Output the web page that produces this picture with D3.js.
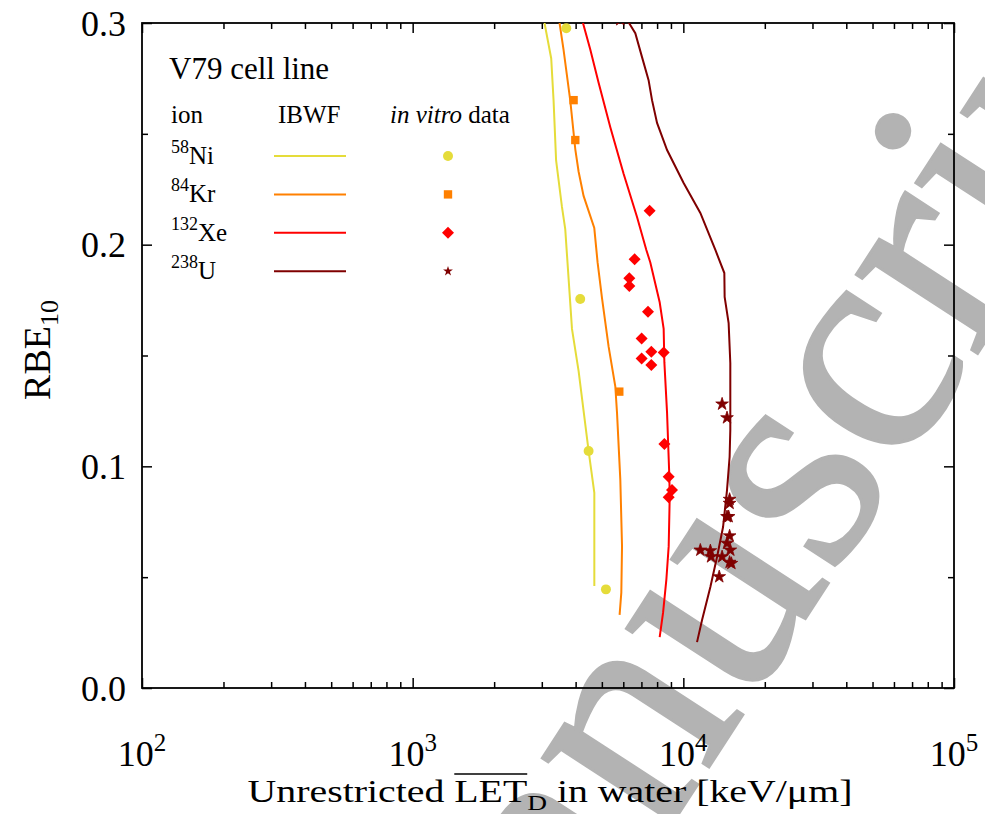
<!DOCTYPE html>
<html>
<head>
<meta charset="utf-8">
<script src="https://cdn.jsdelivr.net/npm/d3@7"></script>
<style>
  body { margin: 0; background: #fff; }
  svg { display: block; font-family: "Liberation Serif", "DejaVu Serif", serif; }
</style>
</head>
<body>
<script>
// RBE10 vs LET, V79 cells -- IBWF model curves and in vitro points
var width = 985;
var height = 814;

var letMajor = [1e2, 1e3, 1e4, 1e5];
var letLabels = ['2', '3', '4', '5'];
var rbeMajor = [0, 0.1, 0.2, 0.3];
var rbeLabels = ['0.0', '0.1', '0.2', '0.3'];
var rbeMinor = [0.05, 0.15, 0.25];

var ionMass = ['58', '84', '132', '238'];
var ionName = ['Ni', 'Kr', 'Xe', 'U'];
var ionColor = ['#e5dc3a', '#ff8000', '#ff0000', '#7f0000'];
var ionSymbol = ['circle', 'square', 'diamond', 'star'];

// IBWF curves [LET keV/um, RBE10]
var ibwfNi = [[3070, 0.300], [3250, 0.284], [3316, 0.265], [3388, 0.238], [3561, 0.217],
  [3662, 0.207], [3878, 0.162], [4103, 0.143], [4467, 0.107], [4690, 0.088], [4690, 0.046]];
var ibwfKr = [[3489, 0.300], [3609, 0.288], [3822, 0.265], [3989, 0.243], [4102, 0.233],
  [4280, 0.222], [4688, 0.2075], [4822, 0.192], [5005, 0.176], [5296, 0.154], [5607, 0.136],
  [5689, 0.124], [5850, 0.094], [5936, 0.064], [5900, 0.043], [5815, 0.033]];
var ibwfXe = [[4258, 0.300], [4531, 0.288], [4864, 0.273], [5373, 0.253], [6016, 0.232],
  [6744, 0.2125], [7300, 0.1976], [7551, 0.192], [8177, 0.174], [8459, 0.162], [8510, 0.147],
  [8708, 0.124], [8880, 0.095], [8905, 0.086], [8829, 0.064], [8657, 0.049], [8417, 0.034],
  [8177, 0.023]];
var ibwfU = [[6000, 0.302], [6300, 0.300], [6646, 0.2954], [7037, 0.2846], [7441, 0.2742],
  [7662, 0.2652], [7996, 0.2549], [8708, 0.2427], [10025, 0.2278], [11557, 0.2143],
  [13133, 0.1976], [14174, 0.1872], [14210, 0.1764], [14701, 0.1646], [14913, 0.1466],
  [14913, 0.1164], [14824, 0.1042], [14500, 0.0893], [14020, 0.0726], [13320, 0.0591],
  [12585, 0.0456], [11726, 0.0307], [11235, 0.0207]];

// in vitro data
var vitroNi = [[3694, 0.2976], [4160, 0.1755], [4467, 0.1069], [5177, 0.0445]];
var vitroKr = [[3932, 0.2652], [3989, 0.2472], [5800, 0.1337]];
var vitroXe = [[7507, 0.2153], [6607, 0.1934], [6317, 0.1848], [6317, 0.1813], [7404, 0.1697],
  [7014, 0.1577], [7615, 0.1517], [8459, 0.1514], [7014, 0.1487], [7615, 0.1457],
  [8510, 0.1101], [8829, 0.0953], [9080, 0.0893], [8829, 0.0860]];
var vitroU = [[5850, 0.3015], [13907, 0.1281], [14500, 0.1219], [14824, 0.0851], [14824, 0.0833],
  [14701, 0.0773], [14500, 0.0773], [14824, 0.0686], [14500, 0.0653], [14913, 0.0622],
  [11557, 0.0622], [12585, 0.0619], [12662, 0.0592], [13907, 0.0592], [14824, 0.0567],
  [15050, 0.0562], [13573, 0.0502]];

var curves = [ibwfNi, ibwfKr, ibwfXe, ibwfU];
var points = [vitroNi, vitroKr, vitroXe, vitroU];

var pLeft = 142, pRight = 954, pTop = 23, pBottom = 688;

var x = d3.scaleLog().domain([1e2, 1e5]).range([pLeft, pRight]);
var y = d3.scaleLinear().domain([0, 0.3]).range([pBottom, pTop]);

var letMinor = [];
[1e2, 1e3, 1e4].forEach(function (dec) {
  for (var k = 2; k <= 9; k++) { letMinor.push(dec * k); }
});

var svg = d3.select('body').append('svg')
  .attr('width', width)
  .attr('height', height);

svg.append('defs').append('clipPath').attr('id', 'plot')
  .append('rect')
  .attr('x', pLeft).attr('y', pTop)
  .attr('width', pRight - pLeft).attr('height', pBottom - pTop);

// watermark
svg.append('text')
  .attr('transform', 'translate(431,1195) rotate(-57)')
  .attr('font-size', 315)
  .attr('fill', '#b3b3b3')
  .attr('stroke', '#b3b3b3')
  .attr('stroke-width', 3)
  .text('Manuscript');

// axes, ticks pointing inward
function axis (gen, scale, vals, size, tx, ty) {
  svg.append('g')
    .attr('transform', 'translate(' + tx + ',' + ty + ')')
    .call(gen(scale).tickValues(vals).tickSize(-size).tickSizeOuter(0).tickFormat(''))
    .call(function (g) {
      g.select('.domain').remove();
      g.selectAll('line').attr('stroke', '#000').attr('stroke-width', 1.5);
    });
}
axis(d3.axisBottom, x, letMajor, 10, 0, pBottom);
axis(d3.axisBottom, x, letMinor, 6, 0, pBottom);
axis(d3.axisTop, x, letMajor, 10, 0, pTop);
axis(d3.axisTop, x, letMinor, 6, 0, pTop);
axis(d3.axisLeft, y, rbeMajor, 10, pLeft, 0);
axis(d3.axisLeft, y, rbeMinor, 6, pLeft, 0);
axis(d3.axisRight, y, rbeMajor, 10, pRight, 0);
axis(d3.axisRight, y, rbeMinor, 6, pRight, 0);

svg.append('rect')
  .attr('x', pLeft).attr('y', pTop)
  .attr('width', pRight - pLeft).attr('height', pBottom - pTop)
  .attr('fill', 'none')
  .attr('stroke', '#000')
  .attr('stroke-width', 1.8);

// tick labels
svg.append('g').selectAll('text')
  .data(rbeMajor)
  .enter().append('text')
  .attr('x', 126)
  .attr('y', function (d) { return y(d); })
  .attr('dy', '0.35em')
  .attr('text-anchor', 'end')
  .attr('font-size', 36)
  .text(function (d, i) { return rbeLabels[i]; });

var xl = svg.append('g').selectAll('text')
  .data(letMajor)
  .enter().append('text')
  .attr('x', function (d) { return x(d); })
  .attr('y', 766)
  .attr('text-anchor', 'middle')
  .attr('font-size', 36);
xl.append('tspan').text('10');
xl.append('tspan').attr('dy', -15).attr('font-size', 25)
  .text(function (d, i) { return letLabels[i]; });

// axis titles
var xt = svg.append('text')
  .attr('text-anchor', 'middle')
  .attr('font-size', 32);
xt.append('tspan').text('Unrestricted ');
xt.append('tspan').text('LET');
xt.append('tspan').attr('dy', 8).attr('font-size', 22).text('D');
xt.append('tspan').attr('dy', -8).text(' in water [keV/\u03bcm]');
var xn = xt.node();
var xs = 605 / xn.getComputedTextLength();
xt.attr('transform', 'translate(550,802) scale(' + xs + ',1)');
var s0 = xn.getStartPositionOfChar(13);
var lw = xn.getSubStringLength(13, 3);
svg.append('line')
  .attr('x1', 550 + s0.x * xs).attr('x2', 550 + (s0.x + lw) * xs)
  .attr('y1', 774).attr('y2', 774)
  .attr('stroke', '#000').attr('stroke-width', 1.5);

var yt = svg.append('text')
  .attr('transform', 'translate(50,350) rotate(-90)')
  .attr('text-anchor', 'middle')
  .attr('font-size', 38);
yt.append('tspan').text('RBE');
yt.append('tspan').attr('dy', 8).attr('font-size', 26).text('10');

// model curves
var line = d3.line()
  .x(function (d) { return x(d[0]); })
  .y(function (d) { return y(d[1]); })
  .curve(d3.curveLinear);

var plot = svg.append('g').attr('clip-path', 'url(#plot)');

plot.selectAll('path.ibwf')
  .data(curves)
  .enter().append('path')
  .attr('class', 'ibwf')
  .attr('d', line)
  .attr('fill', 'none')
  .attr('stroke', function (d, i) { return ionColor[i]; })
  .attr('stroke-width', 2);

function marker (kind, big) {
  if (kind === 'circle') { return d3.symbol(d3.symbolCircle, 78)(); }
  if (kind === 'square') { return d3.symbol(d3.symbolSquare, 70)(); }
  if (kind === 'diamond') { return d3.symbol(d3.symbolSquare, 72)(); }
  return d3.symbol(d3.symbolStar, big ? 50 : 30)();
}

points.forEach(function (set, i) {
  plot.append('g').selectAll('path')
    .data(set)
    .enter().append('path')
    .attr('d', marker(ionSymbol[i], true))
    .attr('transform', function (d) {
      return 'translate(' + x(d[0]) + ',' + y(d[1]) + ')' + (ionSymbol[i] === 'diamond' ? ' rotate(45)' : '');
    })
    .attr('fill', ionColor[i])
    .attr('stroke', ionSymbol[i] === 'star' ? ionColor[i] : 'none')
    .attr('stroke-width', 0.8);
});

// legend
var lg = svg.append('g').attr('font-size', 25);
lg.append('text').attr('x', 169).attr('y', 79).attr('font-size', 31).text('V79 cell line');
lg.append('text').attr('x', 171).attr('y', 123).text('ion');
lg.append('text').attr('x', 278).attr('y', 123).text('IBWF');
var iv = lg.append('text').attr('x', 390).attr('y', 123);
iv.append('tspan').attr('font-style', 'italic').text('in vitro');
iv.append('tspan').text(' data');

ionName.forEach(function (name, i) {
  var yy = 156 + i * 38.4;
  var t = lg.append('text').attr('x', 171).attr('y', yy + 8);
  t.append('tspan').attr('dy', -11).attr('font-size', 18).text(ionMass[i]);
  t.append('tspan').attr('dy', 11).text(name);
  lg.append('line')
    .attr('x1', 274).attr('x2', 346)
    .attr('y1', yy).attr('y2', yy)
    .attr('stroke', ionColor[i])
    .attr('stroke-width', 2);
  lg.append('path')
    .attr('d', marker(ionSymbol[i], false))
    .attr('transform', 'translate(448,' + yy + ')' + (ionSymbol[i] === 'diamond' ? ' rotate(45)' : ''))
    .attr('fill', ionColor[i]);
});
</script>
</body>
</html>
